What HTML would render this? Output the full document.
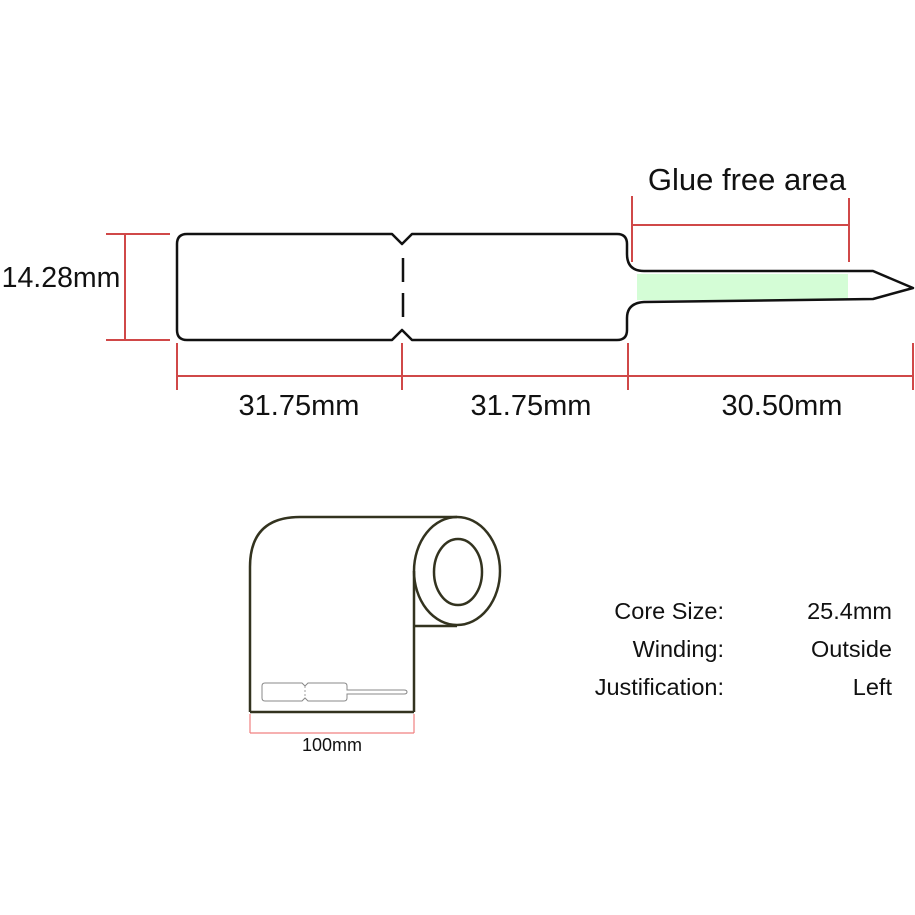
<!DOCTYPE html>
<html><head><meta charset="utf-8"><style>
html,body{margin:0;padding:0;background:#fff;}
svg{display:block;}
text{font-family:"Liberation Sans",sans-serif;fill:#111;}
</style></head><body>
<svg width="915" height="915" viewBox="0 0 915 915" xmlns="http://www.w3.org/2000/svg">
<rect width="915" height="915" fill="#fff"/>
<rect x="637" y="274" width="211" height="26" fill="#d4fdd6"/>
<path d="M187,234 H392 L402,244 L412,234 H617 Q627,234 627,244 V254 Q627,271 644,271 H873 L913,288 L873,299 L644,302 Q627,303 627,318 V330 Q627,340 617,340 H412 L402,330 L392,340 H187 Q177,340 177,330 V244 Q177,234 187,234 Z" fill="none" stroke="#111" stroke-width="2.5" stroke-linejoin="round"/>
<line x1="403" y1="258" x2="403" y2="318" stroke="#111" stroke-width="2.5" stroke-dasharray="24,11"/>
<g stroke="#d04848" stroke-width="2" fill="none">
<line x1="106" y1="234" x2="170" y2="234"/>
<line x1="106" y1="340" x2="170" y2="340"/>
<line x1="125" y1="234" x2="125" y2="340"/>
<line x1="177" y1="343" x2="177" y2="390"/>
<line x1="402" y1="343" x2="402" y2="390"/>
<line x1="628" y1="343" x2="628" y2="390"/>
<line x1="913" y1="343" x2="913" y2="390"/>
<line x1="177" y1="376" x2="913" y2="376"/>
<line x1="632" y1="196" x2="632" y2="262"/>
<line x1="849" y1="198" x2="849" y2="262"/>
<line x1="632" y1="225" x2="849" y2="225"/>
</g>
<text x="61" y="287" font-size="28.5" text-anchor="middle">14.28mm</text>
<text x="299" y="415" font-size="29" text-anchor="middle">31.75mm</text>
<text x="531" y="415" font-size="29" text-anchor="middle">31.75mm</text>
<text x="782" y="415" font-size="29" text-anchor="middle">30.50mm</text>
<text x="747" y="190" font-size="31" text-anchor="middle">Glue free area</text>
<g stroke="#33331f" stroke-width="2.5" fill="none">
<path d="M250,712 V567 Q250,517 300,517 H457"/>
<line x1="250" y1="712" x2="414" y2="712"/>
<line x1="414" y1="712" x2="414" y2="571"/>
<line x1="414" y1="626" x2="457" y2="626"/>
<ellipse cx="457" cy="571" rx="43" ry="54"/>
<ellipse cx="458" cy="572" rx="24" ry="33"/>
</g>
<path d="M265,683 H302 L305,686 L308,683 H344 Q347,683 347,686 V690 H404 Q407,690 407,692 Q407,694 404,694 H347 V698 Q347,701 344,701 H308 L305,698 L302,701 H265 Q262,701 262,698 V686 Q262,683 265,683 Z" fill="none" stroke="#888" stroke-width="1"/>
<line x1="305" y1="686" x2="305" y2="698" stroke="#888" stroke-width="0.8" stroke-dasharray="2,2"/>
<g stroke="#f08080" stroke-width="1.2">
<line x1="250" y1="714" x2="250" y2="733"/>
<line x1="414" y1="714" x2="414" y2="733"/>
<line x1="250" y1="733" x2="414" y2="733"/>
</g>
<text x="332" y="751" font-size="18" text-anchor="middle" fill="#333">100mm</text>
<text x="724" y="619" font-size="23.5" text-anchor="end">Core Size:</text>
<text x="724" y="657" font-size="23.5" text-anchor="end">Winding:</text>
<text x="724" y="695" font-size="23.5" text-anchor="end">Justification:</text>
<text x="892" y="619" font-size="23.5" text-anchor="end">25.4mm</text>
<text x="892" y="657" font-size="23.5" text-anchor="end">Outside</text>
<text x="892" y="695" font-size="23.5" text-anchor="end">Left</text>
</svg>
</body></html>
